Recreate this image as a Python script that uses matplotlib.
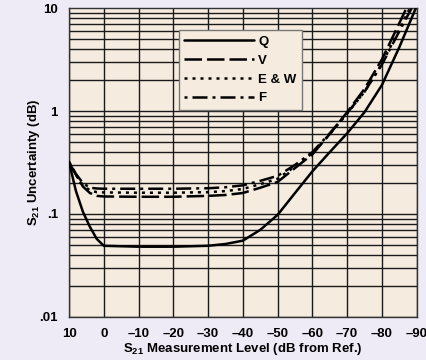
import numpy as np
import matplotlib
matplotlib.use("Agg")
import matplotlib.pyplot as plt

plt.rcParams['font.family'] = ['Liberation Sans', 'DejaVu Sans']
plt.rcParams['font.weight'] = 'bold'
plt.rcParams['axes.labelweight'] = 'bold'
plt.rcParams['mathtext.fontset'] = 'custom'
plt.rcParams['mathtext.rm'] = 'Liberation Sans:bold'
plt.rcParams['mathtext.bf'] = 'Liberation Sans:bold'
plt.rcParams['mathtext.default'] = 'rm'

# measurement level (dB from ref) and uncertainty (dB)
lvl_q = [10, 8, 6, 4, 2, 0, -10, -20, -30, -35, -40, -45, -50, -55, -60, -65, -70, -75, -80, -85, -89.7]
unc_q = [0.32, 0.167, 0.105, 0.075, 0.057, 0.049, 0.048, 0.048, 0.049, 0.051, 0.055, 0.07, 0.098,
         0.16, 0.26, 0.40, 0.61, 0.98, 1.8, 4.2, 10.0]

lvl_v = [10, 8, 6, 4, 2, 0, -10, -20, -30, -35, -40, -45, -50, -55, -60, -65, -70, -75, -80, -85, -87.0]
unc_v = [0.32, 0.24, 0.185, 0.16, 0.15, 0.148, 0.147, 0.147, 0.150, 0.153, 0.16, 0.18, 0.205,
         0.28, 0.38, 0.60, 0.98, 1.65, 3.2, 7.2, 10.0]

lvl_ew = [10, 8, 6, 4, 2, 0, -10, -20, -30, -35, -40, -45, -50, -55, -60, -65, -70, -75, -80, -85, -88.0]
unc_ew = [0.32, 0.24, 0.19, 0.17, 0.163, 0.162, 0.161, 0.161, 0.163, 0.167, 0.175, 0.195, 0.22,
          0.29, 0.39, 0.60, 0.95, 1.55, 2.9, 6.3, 10.0]

lvl_f = [10, 8, 6, 4, 2, 0, -10, -20, -30, -35, -40, -45, -50, -55, -60, -65, -70, -75, -80, -85, -88.5]
unc_f = [0.32, 0.245, 0.2, 0.18, 0.177, 0.176, 0.176, 0.176, 0.178, 0.182, 0.19, 0.21, 0.235,
         0.30, 0.40, 0.61, 0.96, 1.55, 2.85, 6.0, 10.0]

x_ticks = [10, 0, -10, -20, -30, -40, -50, -60, -70, -80, -90]
x_tick_labels = ['10', '0', '\u201310', '\u201320', '\u201330', '\u201340', '\u201350',
                 '\u201360', '\u201370', '\u201380', '\u201390']
y_ticks = [0.01, 0.1, 1, 10]
y_tick_labels = ['.01', '.1', '1', '10']

fig = plt.figure(figsize=(4.27, 3.6), dpi=100, facecolor='#EEEBF6')
ax = fig.add_axes([0.1616, 0.1203, 0.8143, 0.8561])
ax.set_facecolor('#F5ECDF')

ax.set_yscale('log')
ax.set_xlim(10, -90)
ax.set_ylim(0.01, 10)

# grid: every 10 dB, every 1..9 of each decade
for xv in x_ticks:
    ax.axvline(xv, color='#1a1a1a', lw=1.0, zorder=1)
for dec in [0.01, 0.1, 1]:
    for m in range(1, 10):
        ax.axhline(dec * m, color='#1a1a1a', lw=1.0, zorder=1)

lw = 1.8
ax.plot(lvl_q, unc_q, color='black', lw=lw, solid_capstyle='round', label='Q', zorder=3)
ax.plot(lvl_v, unc_v, color='black', lw=lw, dashes=(7, 2), label='V', zorder=3)
ax.plot(lvl_ew, unc_ew, color='black', lw=lw, dashes=(1.2, 2), label='E & W', zorder=3)
ax.plot(lvl_f, unc_f, color='black', lw=lw, dashes=(1.2, 2, 6, 2), label='F', zorder=3)

ax.set_xticks(x_ticks)
ax.set_xticklabels(x_tick_labels)
ax.set_yticks(y_ticks)
ax.set_yticklabels(y_tick_labels)
ax.yaxis.set_minor_locator(matplotlib.ticker.NullLocator())
ax.tick_params(axis='x', length=0, labelsize=9.5, pad=8)
ax.tick_params(axis='y', length=0, labelsize=9.5, pad=8)
for s in ax.spines.values():
    s.set_color('#333333')
    s.set_linewidth(1.0)

ax.set_xlabel(r'S$_{21}$ Measurement Level (dB from Ref.)', fontsize=9.5, labelpad=1)
ax.set_ylabel(r'S$_{21}$ Uncertainty (dB)', fontsize=9.5, labelpad=0)
ax.yaxis.set_label_coords(-0.078, 0.5)

leg = ax.legend(loc='upper left', bbox_to_anchor=(0.316, 0.929), markerfirst=True,
                handlelength=5.3, handletextpad=0.3, labelspacing=0.5, fontsize=9.5,
                frameon=True, fancybox=False, borderpad=0.4, borderaxespad=0)
leg.get_frame().set_facecolor('#F5ECDF')
leg.get_frame().set_edgecolor('#777777')
leg.get_frame().set_linewidth(1.0)
leg.get_frame().set_alpha(1)
leg.set_zorder(5)

fig.savefig('out.png', dpi=100, facecolor=fig.get_facecolor())
